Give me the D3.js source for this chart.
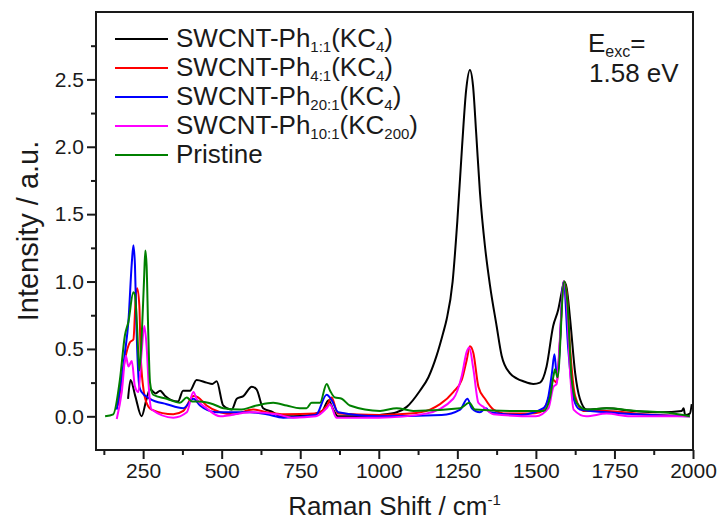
<!DOCTYPE html>
<html>
<head>
<meta charset="utf-8">
<script src="https://cdn.jsdelivr.net/npm/d3@7"></script>
<style>
  body { margin: 0; background: #fff; }
  text { font-family: "Liberation Sans", Arial, sans-serif; fill: #1a1a1a; }
</style>
</head>
<body>
<svg id="drawing_region"></svg>
<script>
// spectra: [Raman shift (cm-1), intensity]
const ph11 = [[202,0.13],[210,0.27],[225,0.15],[245,0.0],[260,0.12],[272,0.2],[290,0.17],[304,0.19],[320,0.15],[340,0.12],[361,0.11],[377,0.19],[399,0.19],[420,0.27],[452,0.25],[470,0.24],[484,0.26],[505,0.08],[532,0.05],[548,0.13],[569,0.15],[596,0.22],[611,0.2],[632,0.06],[664,0.03],[685,0.0],[727,0.0],[780,0.01],[820,0.04],[840,0.12],[855,0.05],[870,0.0],[950,0.0],[1004,0.01],[1057,0.03],[1089,0.07],[1131,0.19],[1158,0.29],[1184,0.45],[1205,0.62],[1216,0.72],[1235,1.0],[1250,1.45],[1265,2.0],[1278,2.42],[1290,2.57],[1300,2.45],[1310,2.1],[1322,1.66],[1338,1.26],[1354,0.97],[1375,0.67],[1391,0.45],[1417,0.32],[1440,0.28],[1460,0.26],[1492,0.24],[1513,0.25],[1534,0.37],[1555,0.67],[1571,0.79],[1582,0.92],[1590,1.0],[1598,0.95],[1609,0.72],[1625,0.32],[1640,0.13],[1662,0.05],[1725,0.06],[1809,0.04],[1900,0.03],[1964,0.04],[1970,0.06],[1975,0.01],[1990,0.02],[1996,0.09]];

const ph41 = [[171,0.08],[192,0.42],[208,0.55],[219,0.57],[227,0.9],[231,0.95],[238,0.82],[242,0.47],[250,0.22],[261,0.1],[277,0.05],[346,0.015],[378,0.04],[410,0.15],[425,0.14],[452,0.08],[495,0.03],[537,0.015],[600,0.05],[643,0.03],[700,0.015],[800,0.02],[835,0.08],[850,0.14],[870,0.02],[1000,0.01],[1100,0.02],[1163,0.05],[1195,0.09],[1237,0.18],[1264,0.27],[1280,0.42],[1290,0.52],[1301,0.47],[1317,0.22],[1338,0.13],[1365,0.05],[1407,0.02],[1480,0.02],[1513,0.03],[1540,0.13],[1556,0.27],[1566,0.25],[1577,0.57],[1588,1.0],[1598,0.92],[1609,0.5],[1625,0.15],[1651,0.04],[1725,0.04],[1842,0.015],[1990,0.0]];

const ph201 = [[166,0.05],[192,0.47],[203,0.7],[214,1.14],[219,1.27],[224,1.12],[229,0.65],[238,0.22],[245,0.18],[272,0.13],[325,0.09],[378,0.06],[410,0.13],[431,0.08],[484,0.03],[590,0.03],[643,0.015],[696,-0.01],[800,0.01],[834,0.16],[850,0.12],[871,0.03],[1000,0.0],[1200,0.01],[1259,0.05],[1282,0.13],[1296,0.06],[1322,0.03],[1341,0.06],[1354,0.03],[1450,0.01],[1524,0.06],[1540,0.15],[1551,0.32],[1559,0.46],[1566,0.32],[1571,0.35],[1588,1.0],[1603,0.5],[1620,0.13],[1640,0.05],[1725,0.03],[1990,0.0]];

const ph101 = [[166,-0.02],[182,0.18],[195,0.45],[203,0.37],[214,0.41],[224,0.22],[235,0.18],[245,0.47],[254,0.67],[261,0.52],[269,0.18],[277,0.05],[346,-0.01],[389,0.03],[410,0.18],[420,0.13],[452,0.06],[495,0.0],[590,0.03],[675,0.015],[727,-0.01],[800,0.0],[834,0.06],[845,0.09],[865,-0.01],[1000,-0.01],[1150,0.02],[1237,0.13],[1264,0.3],[1280,0.48],[1288,0.51],[1301,0.35],[1317,0.1],[1333,0.07],[1365,0.015],[1500,0.0],[1540,0.06],[1556,0.22],[1566,0.24],[1577,0.6],[1588,1.0],[1598,0.85],[1609,0.32],[1620,0.05],[1660,0.0],[1725,0.02],[1800,0.0],[1990,0.0]];

const pristine = [[129,0.0],[155,0.015],[176,0.27],[192,0.6],[203,0.7],[219,0.92],[224,0.9],[231,0.65],[238,0.34],[245,0.57],[253,1.02],[257,1.23],[261,1.12],[266,0.65],[272,0.25],[282,0.16],[325,0.13],[367,0.1],[389,0.14],[405,0.11],[431,0.11],[473,0.09],[505,0.06],[558,0.05],[611,0.08],[664,0.1],[707,0.08],[749,0.06],[770,0.06],[786,0.1],[813,0.1],[834,0.24],[845,0.19],[860,0.14],[882,0.13],[908,0.08],[1004,0.04],[1057,0.06],[1110,0.04],[1259,0.06],[1288,0.1],[1306,0.05],[1428,0.04],[1524,0.04],[1545,0.14],[1556,0.3],[1561,0.35],[1569,0.29],[1590,1.0],[1600,0.85],[1614,0.27],[1630,0.1],[1661,0.05],[1725,0.06],[1820,0.04],[1906,0.03],[1990,0.0]];

const seriesNames = [
    ["SWCNT-Ph", "1:1", "(KC", "4", ")"],
    ["SWCNT-Ph", "4:1", "(KC", "4", ")"],
    ["SWCNT-Ph", "20:1", "(KC", "4", ")"],
    ["SWCNT-Ph", "10:1", "(KC", "200", ")"],
    ["Pristine"]
];
const seriesColors = ["#000000", "#ff0000", "#0000ff", "#ff00ff", "#008000"];
const seriesData = [ph11, ph41, ph201, ph101, pristine];

const xMajorTicks = [250, 500, 750, 1000, 1250, 1500, 1750, 2000];
const xMinorTicks = [125, 375, 625, 875, 1125, 1375, 1625, 1875];
const yMajorTicks = [0, 0.5, 1.0, 1.5, 2.0, 2.5];
const yMinorTicks = [0.25, 0.75, 1.25, 1.75, 2.25, 2.75];

const width = 722, height = 527;
const margin = {top: 12, right: 29, bottom: 77, left: 96};
const inner_width = width - margin.left - margin.right;
const inner_height = height - margin.top - margin.bottom;

const svg = d3.select('#drawing_region')
    .attr('width', width)
    .attr('height', height);

const chart = svg.append('g')
    .attr('transform', `translate(${margin.left}, ${margin.top})`);

const xscale = d3.scaleLinear().domain([100, 2000]).range([0, inner_width]);
const yscale = d3.scaleLinear().domain([-0.25, 3.0]).range([inner_height, 0]);

chart.append('defs').append('clipPath').attr('id', 'clip')
    .append('rect').attr('width', inner_width).attr('height', inner_height);

const line = d3.line()
    .x(d => xscale(d[0]))
    .y(d => yscale(d[1]))
    .curve(d3.curveMonotoneX);

chart.append('g').attr('clip-path', 'url(#clip)')
    .selectAll('path')
    .data(seriesData)
    .join('path')
    .attr('d', line)
    .attr('fill', 'none')
    .attr('stroke', (d, i) => seriesColors[i])
    .attr('stroke-width', 2)
    .attr('stroke-linejoin', 'round');

// axes
chart.append('g')
    .attr('transform', `translate(0, ${inner_height})`)
    .call(d3.axisBottom(xscale).tickValues(xMajorTicks).tickSize(9).tickPadding(4).tickFormat(d3.format('d')));
chart.append('g')
    .attr('transform', `translate(0, ${inner_height})`)
    .call(d3.axisBottom(xscale).tickValues(xMinorTicks).tickSize(5).tickFormat(''));

chart.append('g')
    .call(d3.axisLeft(yscale).tickValues(yMajorTicks).tickSize(9).tickPadding(3).tickFormat(d3.format('.1f')));
chart.append('g')
    .call(d3.axisLeft(yscale).tickValues(yMinorTicks).tickSize(5).tickFormat(''));

chart.selectAll('.domain').remove();
chart.selectAll('.tick line').attr('stroke', '#1a1a1a').attr('stroke-width', 2);
chart.selectAll('.tick text').style('font-size', '21px').attr('fill', '#1a1a1a');

// frame
chart.append('rect')
    .attr('width', inner_width)
    .attr('height', inner_height)
    .attr('fill', 'none')
    .attr('stroke', '#1a1a1a')
    .attr('stroke-width', 2);

// axis titles
const xt = svg.append('text')
    .attr('text-anchor', 'middle')
    .attr('x', margin.left + inner_width / 2)
    .attr('y', 515)
    .style('font-size', '26px');
xt.append('tspan').text('Raman Shift / cm');
xt.append('tspan').attr('dy', -10).style('font-size', '15px').text('-1');

svg.append('text')
    .attr('text-anchor', 'middle')
    .attr('transform', `translate(38, ${margin.top + inner_height / 2}) rotate(-90)`)
    .style('font-size', '29px')
    .text('Intensity / a.u.');

// legend
const legend = svg.append('g');
seriesNames.forEach((parts, i) => {
    const y = 39 + i * 29;
    legend.append('line')
        .attr('x1', 115).attr('x2', 168)
        .attr('y1', y).attr('y2', y)
        .attr('stroke', seriesColors[i])
        .attr('stroke-width', 2);
    const t = legend.append('text')
        .attr('x', 176).attr('y', y + 8)
        .style('font-size', '26px');
    parts.forEach((p, j) => {
        if (j % 2 === 1) {
            t.append('tspan').attr('dy', 5).style('font-size', '15px').text(p);
        } else {
            const ts = t.append('tspan').text(p);
            if (j > 0) ts.attr('dy', -5);
        }
    });
});

// excitation energy
const e1 = svg.append('text').attr('x', 588).attr('y', 52).style('font-size', '26px');
e1.append('tspan').text('E');
e1.append('tspan').attr('dy', 5).style('font-size', '16px').text('exc');
e1.append('tspan').attr('dy', -5).text('=');
svg.append('text').attr('x', 589).attr('y', 82).style('font-size', '26px').text('1.58 eV');
</script>
</body>
</html>
